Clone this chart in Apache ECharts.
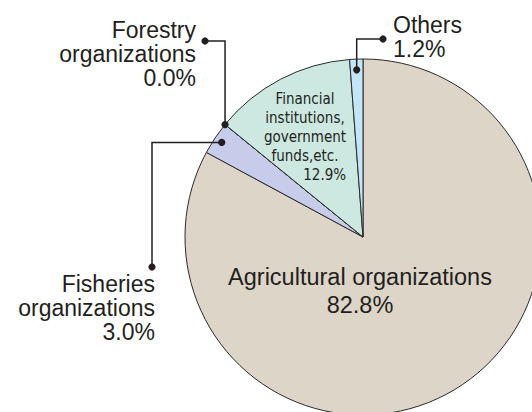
<!DOCTYPE html>
<html>
<head>
<meta charset="utf-8">
<script src="https://cdn.jsdelivr.net/npm/echarts@6/dist/echarts.min.js"></script>
<style>
  html, body { margin: 0; padding: 0; background: #ffffff; }
  #chart { width: 532px; height: 412px; }
</style>
</head>
<body>
<div id="chart"></div>
<script>
// ---- data ----
const categories = [
  'Agricultural organizations',
  'Fisheries organizations',
  'Forestry organizations',
  'Financial institutions, government funds,etc.',
  'Others'
];
const values = [82.8, 3.0, 0.0, 12.9, 1.2];
const labelLines = [
  ['Agricultural organizations'],
  ['Fisheries', 'organizations'],
  ['Forestry', 'organizations'],
  ['Financial', 'institutions,', 'government', 'funds,etc.'],
  ['Others']
];
const colors = ['#ddd5c7', '#c6cce9', '#d9e0d0', '#cde8e1', '#c4e5f7'];

// ---- layout ----
const CX = 363, CY = 237, R = 178;
const FONT = '"Liberation Sans", Arial, Helvetica, sans-serif';
const NARROW = '"Liberation Sans Narrow", "DejaVu Sans Condensed", "Liberation Sans", sans-serif';
const TXT = '#231f20';

// label placement per category
const labelPos = [
  { x: 360, y: 263, align: 'center', size: 23.5, lh: 28, font: FONT },
  { x: 155, y: 272, align: 'right', size: 23, lh: 24, font: FONT },
  { x: 196, y: 18, align: 'right', size: 23, lh: 24, font: FONT },
  { x: 305, y: 89, align: 'center', size: 15, lh: 19, font: NARROW },
  { x: 393, y: 13, align: 'left', size: 23, lh: 24, font: FONT }
];
// leader lines: anchor (from data angle) -> elbow -> end dot
const leaders = [
  null,
  { where: 'mid', rho: 0.955, first: 'h', elbow: 152, end: 267 },
  { where: 'start', rho: 1.0, first: 'v', elbow: 41, end: 205 },
  null,
  { where: 'mid', rho: 0.94, first: 'v', elbow: 39, end: 383 }
];

const total = values.reduce((a, b) => a + b, 0);
function polar(frac, rho) {
  const a = (90 - frac * 360) * Math.PI / 180;
  return [CX + rho * Math.cos(a), CY - rho * Math.sin(a)];
}

const chart = echarts.init(document.getElementById('chart'), null, { renderer: 'svg' });

const data = categories.map((name, i) => ({
  name: name,
  value: values[i],
  itemStyle: { color: colors[i] }
}));

function fmt(params) {
  const i = params.dataIndex;
  const pct = values[i].toFixed(1) + '%';
  if (i === 3) {
    return labelLines[i].map(s => '{t|' + s + '}').join('\n') + '\n{p|' + pct + '}';
  }
  return labelLines[i].concat([pct]).map(s => '{t|' + s + '}').join('\n');
}

const graphics = [];
let cum = 0;
values.forEach((v, i) => {
  const startFrac = cum / total;
  const midFrac = (cum + v / 2) / total;
  cum += v;
  const L = leaders[i];
  if (!L) return;
  const frac = L.where === 'start' ? startFrac : midFrac;
  const a = polar(frac, R * L.rho);
  let pts;
  if (L.first === 'v') {
    pts = [a, [a[0], L.elbow], [L.end, L.elbow]];
  } else {
    pts = [a, [L.elbow, a[1]], [L.elbow, L.end]];
  }
  graphics.push({
    type: 'polyline', z: 100, silent: true,
    shape: { points: pts },
    style: { stroke: '#231f20', lineWidth: 1.5, fill: null }
  });
  [pts[0], pts[2]].forEach(p => graphics.push({
    type: 'circle', z: 101, silent: true,
    shape: { cx: p[0], cy: p[1], r: 3.6 },
    style: { fill: '#231f20' }
  }));
});

chart.setOption({
  animation: false,
  backgroundColor: '#ffffff',
  series: [{
    type: 'pie',
    center: [CX, CY],
    radius: R,
    startAngle: 90,
    clockwise: true,
    avoidLabelOverlap: false,
    silent: true,
    emphasis: { disabled: true },
    itemStyle: { borderColor: '#2b2b2b', borderWidth: 1 },
    label: {
      show: true,
      position: 'inside',
      formatter: fmt,
      color: TXT
    },
    labelLine: { show: false },
    labelLayout: function (params) {
      const p = labelPos[params.dataIndex];
      return { x: p.x, y: p.y, align: p.align, verticalAlign: 'top', hideOverlap: false };
    },
    data: data.map((d, i) => Object.assign({}, d, {
      label: {
        rich: {
          t: { fontFamily: labelPos[i].font, fontSize: labelPos[i].size, lineHeight: labelPos[i].lh, color: TXT, align: labelPos[i].align },
          p: { fontFamily: labelPos[i].font, fontSize: labelPos[i].size, lineHeight: labelPos[i].lh, color: TXT, align: 'right' }
        }
      }
    }))
  }],
  graphic: graphics
});
</script>
</body>
</html>
